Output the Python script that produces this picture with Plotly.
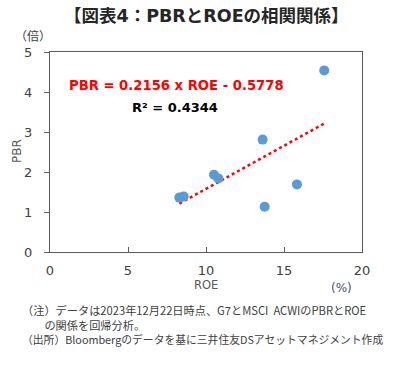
import plotly.graph_objects as go

roe = [17.58, 13.63, 10.51, 10.79, 15.83, 13.76, 8.29, 8.57]
pbr = [4.54, 2.81, 1.93, 1.84, 1.69, 1.13, 1.36, 1.39]
slope = 0.2156
intercept = -0.5778
x_ticks = [0, 5, 10, 15, 20]
y_ticks = [0, 1, 2, 3, 4, 5]

FONT = "DejaVu Sans, Noto Sans CJK JP"
JFONT = "Noto Sans CJK JP"
W, H = 400, 366
L, R, T, B = 50, 362, 52, 252

def px(x):
    return (x - L) / (R - L)

def py(y):
    return (B - y) / (B - T)

x0, x1 = min(roe), max(roe)
trend_x = [x0, x1]
trend_y = [slope * v + intercept for v in trend_x]

fig = go.Figure()
fig.add_trace(go.Scatter(x=trend_x, y=trend_y, mode="lines",
                         line=dict(color="#FF0000", width=2.5, dash="dot"),
                         hoverinfo="skip", showlegend=False))
fig.add_trace(go.Scatter(x=roe, y=pbr, mode="markers",
                         marker=dict(color="#5B9BD5", size=10),
                         showlegend=False))

ann = []
def add(text, x, y, size, color, bold=False, anchor="center", angle=0, family=FONT):
    t = f"<b>{text}</b>" if bold else text
    ann.append(dict(text=t, x=px(x), y=py(y), xref="paper", yref="paper",
                    xanchor=anchor, yanchor="middle", showarrow=False, textangle=angle,
                    align="left", font=dict(size=size, color=color, family=family)))

add("【図表4：PBRとROEの相関関係】", 206, 16, 17.5, "#262626", bold=True)
add("（倍）", 33, 35, 12, "#404040", family=JFONT)
add("PBR", 17, 151, 12, "#595959", angle=-90)
add("ROE", 206, 285, 11.5, "#595959")
add("(%)", 341, 288, 12, "#44546A")
add("PBR = 0.2156 x ROE - 0.5778", 176, 85, 13.2, "#FF0000", bold=True)
add("R² = 0.4344", 175, 107, 13, "#000000", bold=True)
notes = ("（注）データは2023年12月22日時点、G7とMSCI  ACWIのPBRとROE<br>"
         "　　の関係を回帰分析。<br>"
         "<span style='font-size:10.8px'>（出所）Bloombergのデータを基に三井住友DSアセットマネジメント作成</span>")
add(notes, 20, 324, 11.2, "#404040", anchor="left", family=JFONT)

fig.update_layout(
    width=W, height=H,
    margin=dict(l=L, r=W - R, t=T, b=H - B),
    paper_bgcolor="white", plot_bgcolor="white",
    font=dict(family=FONT, color="#404040", size=13),
    annotations=ann,
    xaxis=dict(range=[0, 20], tickvals=x_ticks, showgrid=False, zeroline=False,
               showline=True, linecolor="#595959", linewidth=1, mirror=True,
               ticks="inside", ticklen=5, tickcolor="#595959", ticklabelstandoff=6,
               tickfont=dict(size=13, color="#404040")),
    yaxis=dict(range=[0, 5], tickvals=y_ticks, showgrid=False, zeroline=False,
               showline=True, linecolor="#595959", linewidth=1, mirror=True,
               ticks="outside", ticklen=5, tickcolor="#595959", ticklabelstandoff=9,
               tickfont=dict(size=13, color="#404040")),
)
fig.write_html("out.html", config={"displayModeBar": False},
               post_script="document.body.style.margin='0';document.body.style.overflow='hidden';")
